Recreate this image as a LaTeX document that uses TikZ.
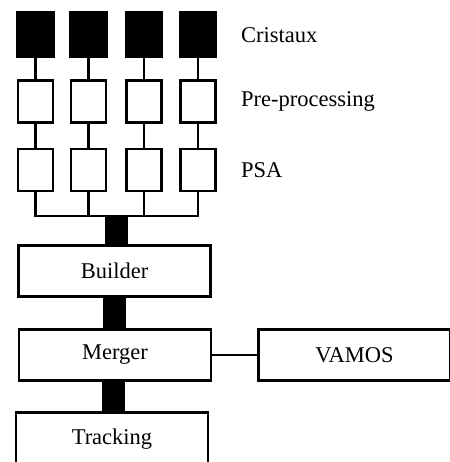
\documentclass[tikz,border=0pt]{standalone}
\usepackage{fontspec}
\setmainfont{Liberation Serif}
\tikzset{
    link/.style={line width=2.8pt},
    feed/.style={line width=23pt},
    crystal/.style={draw, fill=black, line width=2.8pt, minimum width=36pt, minimum height=44pt, inner sep=0pt},
    stage/.style={draw, fill=white, line width=2.8pt, minimum width=35pt, minimum height=42pt, inner sep=0pt},
    block/.style={draw, fill=white, line width=2.8pt, minimum width=192pt, minimum height=51pt, inner sep=0pt,
        font=\fontsize{22.5}{27}\selectfont},
    caption/.style={anchor=west, inner sep=0pt, font=\fontsize{22.5}{27}\selectfont}
}
\begin{document}
\begin{tikzpicture}[x=1pt, y=1pt]
    \useasboundingbox (0,0) rectangle (449,-462);
    % Detector chains
    \foreach \i/\x in {1/35.5, 2/88.5, 3/144, 4/198}{
        \node[crystal] (c\i) at (\x,-34.5) {};
        \node[stage] (p\i) at (\x,-101.5) {};
        \node[stage] (s\i) at (\x,-170) {};
        \draw[link] (c\i.south) -- (p\i.north);
        \draw[link] (p\i.south) -- (s\i.north);
    }
    % Bus
    \coordinate (bus) at (116,-216);
    \foreach \i in {1,2,3,4}{
        \draw[link, line join=miter] (s\i.south) |- (bus);
    }
    % Event processing
    \node[block] (builder) at (114.5,-271) {Builder};
    \node[block] (merger) at (115,-355) {Merger};
    \node[block, minimum height=54pt] (tracking) at (112,-439.5) {\raisebox{2pt}{Tracking}};
    \node[block] (vamos) at (354.5,-355) {VAMOS};
    \draw[feed] (bus) -- (bus |- builder.north);
    \draw[feed] ([xshift=-0.5pt]builder.south) -- ([xshift=-0.5pt]builder.south |- merger.north);
    \draw[feed] ([xshift=-1.5pt]merger.south) -- ([xshift=-1.5pt]merger.south |- tracking.north);
    \draw[link] (merger.east) -- (vamos.west);
    % Labels
    \node[caption] (lc) at (241,-35) {Cristaux};
    \node[caption] (lp) at (241,-101) {Pre-processing};
    \node[caption] (ls) at (241,-170) {PSA};
\end{tikzpicture}
\end{document}
